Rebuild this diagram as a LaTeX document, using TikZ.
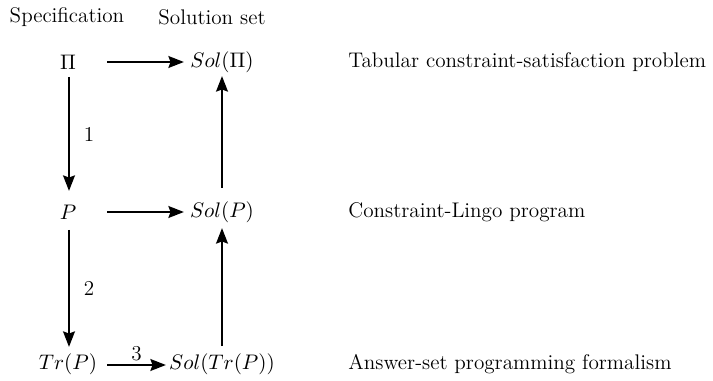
\documentclass[tikz,border=0pt]{standalone}
\usetikzlibrary{arrows.meta,calc}
\begin{document}
\begin{tikzpicture}[x=0.52pt,y=-0.52pt,
  every node/.style={font=\fontsize{11}{13}\selectfont},
  lbl/.style={inner sep=0pt},
  arr/.style={line width=1.55pt,-{Stealth[length=8pt,width=6pt,inset=1pt]}}]
\useasboundingbox (0,0) rectangle (713,381);
\node[lbl] (spec) at (67,17) {Specification};
\node[lbl] (sols) at (212,17) {Solution set};
\node[lbl] (Pi) at (68,62) {$\Pi$};
\node[lbl] (SolPi) at (222,62) {$Sol(\Pi)$};
\node[lbl] (P) at (68,212) {$P$};
\node[lbl] (SolP) at (222,212) {$Sol(P)$};
\node[lbl] (TrP) at (68,364) {$Tr(P)$};
\node[lbl] (SolTrP) at (222,364) {$Sol(Tr(P))$};
\node[lbl,anchor=west] (d1) at (348,62) {Tabular constraint-satisfaction problem};
\node[lbl,anchor=west] (d2) at (348,212) {Constraint-Lingo program};
\node[lbl,anchor=west] (d3) at (348,364) {Answer-set programming formalism};
\draw[arr] ($(Pi.center)+(39,0)$) -- ($(SolPi.center)+(-38,0)$);
\draw[arr] ($(P.center)+(39,0)$) -- ($(SolP.center)+(-38,0)$);
\draw[arr] ($(TrP.center)+(39,1)$) -- ($(SolTrP.center)+(-56,1)$) node[midway,above=1.5pt,lbl] (n3) {3};
\draw[arr] ($(Pi.center)+(1,15)$) -- ($(P.center)+(1,-21)$) node[midway,right=7pt,lbl] (n1) {1};
\draw[arr] ($(P.center)+(1,18)$) -- ($(TrP.center)+(1,-17)$) node[midway,right=7pt,lbl] (n2) {2};
\draw[arr] ($(SolP.center)+(0,-24)$) -- ($(SolPi.center)+(0,14)$);
\draw[arr] ($(SolTrP.center)+(0,-18)$) -- ($(SolP.center)+(0,16)$);
\end{tikzpicture}
\end{document}
